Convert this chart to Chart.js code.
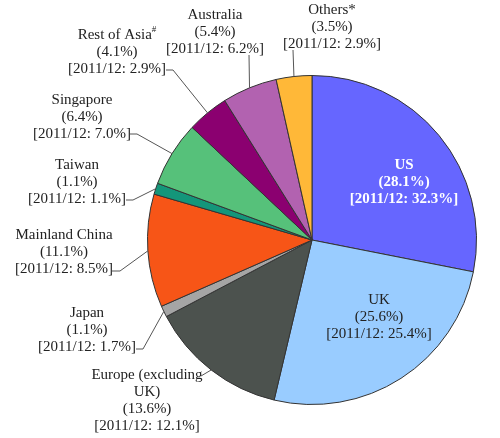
<!DOCTYPE html>
<html>
<head>
<meta charset="utf-8">
<script src="https://cdn.jsdelivr.net/npm/chart.js@4.4.1/dist/chart.umd.min.js"></script>
<style>
  html, body { margin: 0; padding: 0; background: #fff; }
  #wrap { width: 500px; height: 438px; }
</style>
</head>
<body>
<div id="wrap"><canvas id="pieChart" width="500" height="438"></canvas></div>
<script>
// ===== Data =====
const regions = ["US", "UK", "Europe (excluding\nUK)", "Japan", "Mainland China", "Taiwan", "Singapore", "Rest of Asia", "Australia", "Others*"];
const shares = [28.1, 25.6, 13.6, 1.1, 11.1, 1.1, 6.4, 4.1, 5.4, 3.5];
const prevShares = [32.3, 25.4, 12.1, 1.7, 8.5, 1.1, 7.0, 2.9, 6.2, 2.9];
const prevYear = "2011/12";
const sliceColors = ["#6666ff", "#99ccff", "#4c524e", "#a5a5a5", "#f75517", "#14967a", "#56c17a", "#8b0070", "#b262b0", "#ffb838"];

// ===== Label layout (text centre x, first line y, leader start points) =====
const labelLayout = [
  { x: 404, y: 165, inside: true, bold: true, color: "#ffffff" },
  { x: 379, y: 300, inside: true, color: "#222" },
  { x: 147, y: 375, lead: [[201, 376]] },
  { x: 87, y: 313, lead: [[136, 349], [143, 349]] },
  { x: 64, y: 235, lead: [[112, 271], [120, 271]] },
  { x: 77, y: 165, lead: [[126, 200], [133, 200]] },
  { x: 82, y: 100, lead: [[130, 134], [137, 134]] },
  { x: 117, y: 35, lead: [[166, 70], [173, 70]], sup: "#" },
  { x: 215, y: 15, lead: [[249, 55]] },
  { x: 332, y: 10, lead: [[293, 50]] }
];

const FONT = "'Liberation Serif', 'Times New Roman', serif";
const LINE_H = 17;

// ===== Label plugin =====
const labelPlugin = {
  id: "sliceLabels",
  afterDatasetsDraw(chart) {
    const ctx = chart.ctx;
    const arcs = chart.getDatasetMeta(0).data;
    ctx.save();
    arcs.forEach((arc, i) => {
      const lay = labelLayout[i];
      const lines = regions[i].split("\n");
      lines.push("(" + shares[i].toFixed(1) + "%)");
      lines.push("[" + prevYear + ": " + prevShares[i].toFixed(1) + "%]");

      // leader line to the slice edge
      if (lay.lead) {
        const mid = (arc.startAngle + arc.endAngle) / 2;
        const ex = arc.x + Math.cos(mid) * arc.outerRadius;
        const ey = arc.y + Math.sin(mid) * arc.outerRadius;
        ctx.strokeStyle = "#555";
        ctx.lineWidth = 1;
        ctx.beginPath();
        ctx.moveTo(lay.lead[0][0], lay.lead[0][1]);
        for (let k = 1; k < lay.lead.length; k++) ctx.lineTo(lay.lead[k][0], lay.lead[k][1]);
        ctx.lineTo(ex, ey);
        ctx.stroke();
      }

      ctx.fillStyle = lay.color || "#222";
      ctx.font = (lay.bold ? "bold " : "") + "15px " + FONT;
      ctx.textAlign = "center";
      ctx.textBaseline = "middle";
      lines.forEach((t, j) => {
        const y = lay.y + j * LINE_H;
        if (j === 0 && lay.sup) {
          const w = ctx.measureText(t).width;
          ctx.font = "9px " + FONT;
          const ws = ctx.measureText(lay.sup).width;
          ctx.font = "15px " + FONT;
          ctx.textAlign = "left";
          const x0 = lay.x - (w + ws) / 2;
          ctx.fillText(t, x0, y);
          ctx.font = "9px " + FONT;
          ctx.fillText(lay.sup, x0 + w, y - 5);
          ctx.font = "15px " + FONT;
          ctx.textAlign = "center";
        } else {
          ctx.fillText(t, lay.x, y);
        }
      });
    });
    ctx.restore();
  }
};

// ===== Pie Chart =====
const ctxPie = document.getElementById("pieChart").getContext("2d");
new Chart(ctxPie, {
  type: "pie",
  data: {
    labels: regions,
    datasets: [{
      data: shares,
      backgroundColor: sliceColors,
      borderColor: "#333",
      borderWidth: 1
    }]
  },
  options: {
    responsive: false,
    animation: false,
    layout: { padding: { left: 147, top: 75, right: 23, bottom: 33 } },
    plugins: {
      legend: { display: false },
      tooltip: { enabled: false }
    }
  },
  plugins: [labelPlugin]
});
</script>
</body>
</html>
